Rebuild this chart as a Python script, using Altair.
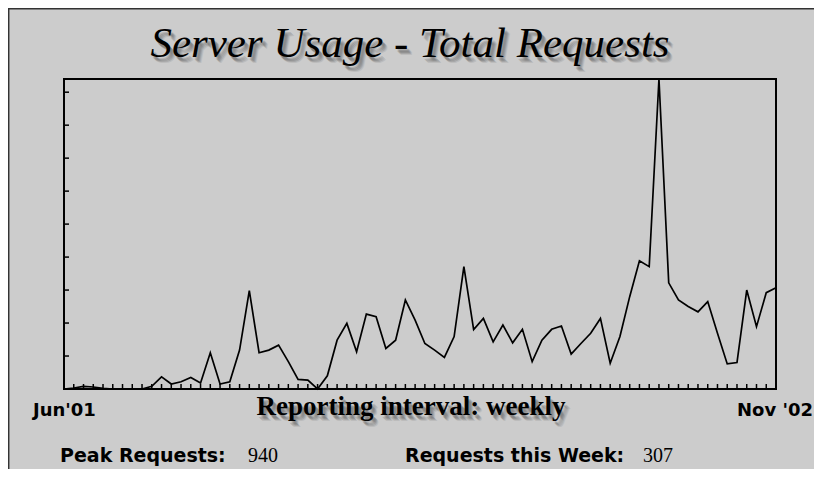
import altair as alt
import pandas as pd

# Weekly total requests, Jun '01 .. Nov '02
requests = [0, 3, 8, 6, 2, 0, 0, 0, 0, 8,
            37, 15, 22, 35, 18, 110, 15, 22, 118, 298,
            110, 118, 133, 83, 29, 27, 0, 40, 148, 199,
            113, 227, 219, 123, 148, 270, 209, 138, 118, 96,
            159, 371, 180, 214, 143, 194, 140, 181, 83, 148,
            181, 191, 106, 138, 169, 214, 78, 159, 280, 389,
            371, 940, 322, 270, 250, 234, 265, 169, 76, 80,
            300, 189, 292, 307]
weeks = list(range(len(requests)))
y_ticks = [100, 200, 300, 400, 500, 600, 700, 800, 900]
x_ticks = list(range(1, len(requests) - 1))

title_text = "Server Usage - Total Requests"
start_label = "Jun'01"
end_label = "Nov '02"
interval_label = "Reporting interval:  weekly"
peak_label = "Peak Requests:"
peak_value = "940"
week_label = "Requests this Week:"
week_value = "307"

W, H = 712, 310
BG = "#cccccc"

df = pd.DataFrame({"week": weeks, "requests": requests})
xs = alt.Scale(domain=[0, len(requests) - 1], nice=False, zero=False)
ys = alt.Scale(domain=[0, 940], nice=False)

line = alt.Chart(df).mark_line(color="black", strokeWidth=1.7).encode(
    x=alt.X("week:Q", scale=xs, axis=None),
    y=alt.Y("requests:Q", scale=ys, axis=None),
)

yt = alt.Chart(pd.DataFrame({"v": y_ticks})).mark_rule(color="black", strokeWidth=1.5).encode(
    y=alt.Y("v:Q", scale=ys, axis=None), x=alt.value(0), x2=alt.value(5)
)
xt = alt.Chart(pd.DataFrame({"w": x_ticks})).mark_rule(color="black", strokeWidth=1.5).encode(
    x=alt.X("w:Q", scale=xs, axis=None), y=alt.value(H - 5), y2=alt.value(H)
)

one = alt.Data(values=[{"a": 1}])


def txt(s, x, y, size, font, align="left", weight="normal", style="normal", color="black", opacity=1.0):
    return alt.Chart(one).mark_text(
        text=s, align=align, baseline="alphabetic", fontSize=size, font=font,
        fontWeight=weight, fontStyle=style, color=color, opacity=opacity,
    ).encode(x=alt.value(x), y=alt.value(y))


def shadowed(s, x, y, size, font, align="center", weight="normal", style="normal"):
    layers = []
    for dx, dy, op in [(2, 3, 0.25), (3, 4, 0.3), (4, 5, 0.25), (5, 6, 0.15)]:
        layers.append(txt(s, x + dx, y + dy, size, font, align, weight, style, "#666666", op))
    layers.append(txt(s, x, y, size, font, align, weight, style, "black"))
    return layers


SERIF = "Liberation Serif, Times New Roman, serif"
SANS = "DejaVu Sans, sans-serif"

texts = []
texts += shadowed(title_text, 346, -22, 43, SERIF, "center", "normal", "italic")
texts += shadowed(interval_label, 347, 336, 27, SERIF, "center", "bold")
texts.append(txt(start_label, -31, 337, 18, SANS, "left", "bold"))
texts.append(txt(end_label, 749, 337, 18, SANS, "right", "bold"))
texts.append(txt(peak_label, -4, 383, 19, SANS, "left", "bold"))
texts.append(txt(peak_value, 184, 383, 20, SERIF, "left"))
texts.append(txt(week_label, 341, 383, 19, SANS, "left", "bold"))
texts.append(txt(week_value, 579, 383, 20, SERIF, "left"))

frame_left = alt.Chart(one).mark_rule(color="#333333", strokeWidth=1.5).encode(
    x=alt.value(-55.3), y=alt.value(-71), y2=alt.value(390)
)
frame_top = alt.Chart(one).mark_rule(color="#333333", strokeWidth=1.5).encode(
    y=alt.value(-70.3), x=alt.value(-56), x2=alt.value(750)
)

chart = alt.layer(frame_left, frame_top, yt, xt, line, *texts).properties(
    width=W, height=H, background=BG,
    padding={"left": 56, "top": 71, "right": 38, "bottom": 80},
    autosize=alt.AutoSizeParams(type="none"),
).configure_view(stroke="black", strokeWidth=2, fill=BG)

chart.save("out.html", embed_options={"renderer": "svg", "actions": False})
